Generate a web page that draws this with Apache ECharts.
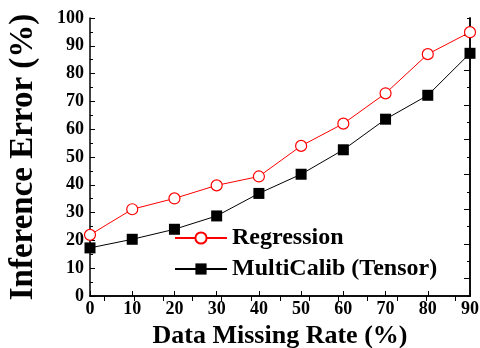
<!DOCTYPE html>
<html>
<head>
<meta charset="utf-8">
<script src="https://cdn.jsdelivr.net/npm/echarts@6/dist/echarts.min.js"></script>
<style>html,body{margin:0;padding:0;background:#fff;}#c{width:480px;height:348px;}</style>
</head>
<body>
<div id="c"></div>
<script>
const missingRate = [0, 10, 20, 30, 40, 50, 60, 70, 80, 90];
const regression = [22, 31.2, 35.1, 39.8, 43, 54, 62, 72.9, 87, 94.9];
const multiCalib = [17.3, 20.4, 24.0, 28.8, 36.9, 43.8, 52.6, 63.6, 72.2, 87.3];
const seriesNames = ['Regression', 'MultiCalib (Tensor)'];
const xTitle = 'Data Missing Rate (%)';
const yTitle = 'Inference Error (%)';

const FONT = "'Liberation Serif', 'Times New Roman', serif";
const chart = echarts.init(document.getElementById('c'), null, {renderer: 'canvas'});
const pairs = (ys) => missingRate.map((x, i) => [x, ys[i]]);
const axisLineStyle = {show: true, lineStyle: {color: '#000', width: 1.5}};

chart.setOption({
  animation: false,
  backgroundColor: '#fff',
  grid: {left: 90, right: 10, top: 18, bottom: 52, containLabel: false, outerBoundsMode: 'none'},
  xAxis: [
    {
      type: 'value', position: 'bottom', min: 0, max: 90, interval: 10,
      axisLine: axisLineStyle,
      axisTick: {show: true, inside: true, length: 5, lineStyle: {color: '#000', width: 1}},
      splitLine: {show: false},
      axisLabel: {color: '#000', fontFamily: FONT, fontWeight: 'bold', fontSize: 18, margin: 4},
      name: xTitle, nameLocation: 'middle', nameGap: 19,
      nameTextStyle: {color: '#000', fontFamily: FONT, fontWeight: 'bold', fontSize: 26}
    },
    {
      type: 'category', position: 'top', boundaryGap: true,
      data: Array(13).fill(''),
      axisLine: axisLineStyle,
      axisTick: {show: true, inside: true, alignWithLabel: true, length: 5, lineStyle: {color: '#000', width: 1}},
      axisLabel: {show: false}, splitLine: {show: false}
    }
  ],
  yAxis: [
    {
      type: 'value', position: 'left', min: 0, max: 100, interval: 10,
      axisLine: axisLineStyle,
      axisTick: {show: true, inside: true, length: 5, lineStyle: {color: '#000', width: 1}},
      minorTick: {show: true, splitNumber: 2, length: 3, lineStyle: {color: '#000', width: 1}},
      splitLine: {show: false},
      axisLabel: {color: '#000', fontFamily: FONT, fontWeight: 'bold', fontSize: 18, margin: 6},
      name: yTitle, nameLocation: 'middle', nameGap: 50, nameRotate: 90,
      nameTextStyle: {color: '#000', fontFamily: FONT, fontWeight: 'bold', fontSize: 33}
    },
    {
      type: 'value', position: 'right', min: 0, max: 16, interval: 1,
      axisLine: axisLineStyle,
      axisTick: {show: true, inside: true, length: 3, lineStyle: {color: '#000', width: 1}},
      axisLabel: {show: false}, splitLine: {show: false}
    },
    {
      type: 'category', position: 'right', boundaryGap: true,
      data: Array(8).fill(''),
      axisLine: axisLineStyle,
      axisTick: {show: true, inside: true, alignWithLabel: true, length: 6, lineStyle: {color: '#000', width: 1}},
      axisLabel: {show: false}, splitLine: {show: false}
    }
  ],
  legend: {
    orient: 'vertical', left: 174, top: 226, padding: 0,
    itemWidth: 52, itemHeight: 14, itemGap: 7,
    textStyle: {color: '#000', fontFamily: FONT, fontWeight: 'bold', fontSize: 24, lineHeight: 24},
    data: seriesNames
  },
  series: [
    {
      name: seriesNames[0], type: 'line', xAxisIndex: 0, yAxisIndex: 0,
      data: pairs(regression),
      symbol: 'circle', symbolSize: 11,
      lineStyle: {color: '#ff0000', width: 1},
      itemStyle: {color: '#fff', borderColor: '#ff0000', borderWidth: 1.2},
      z: 3
    },
    {
      name: seriesNames[1], type: 'line', xAxisIndex: 0, yAxisIndex: 0,
      data: pairs(multiCalib),
      symbol: 'rect', symbolSize: 11,
      lineStyle: {color: '#000', width: 1},
      itemStyle: {color: '#000', borderColor: '#000', borderWidth: 0},
      z: 3
    }
  ]
});
</script>
</body>
</html>
